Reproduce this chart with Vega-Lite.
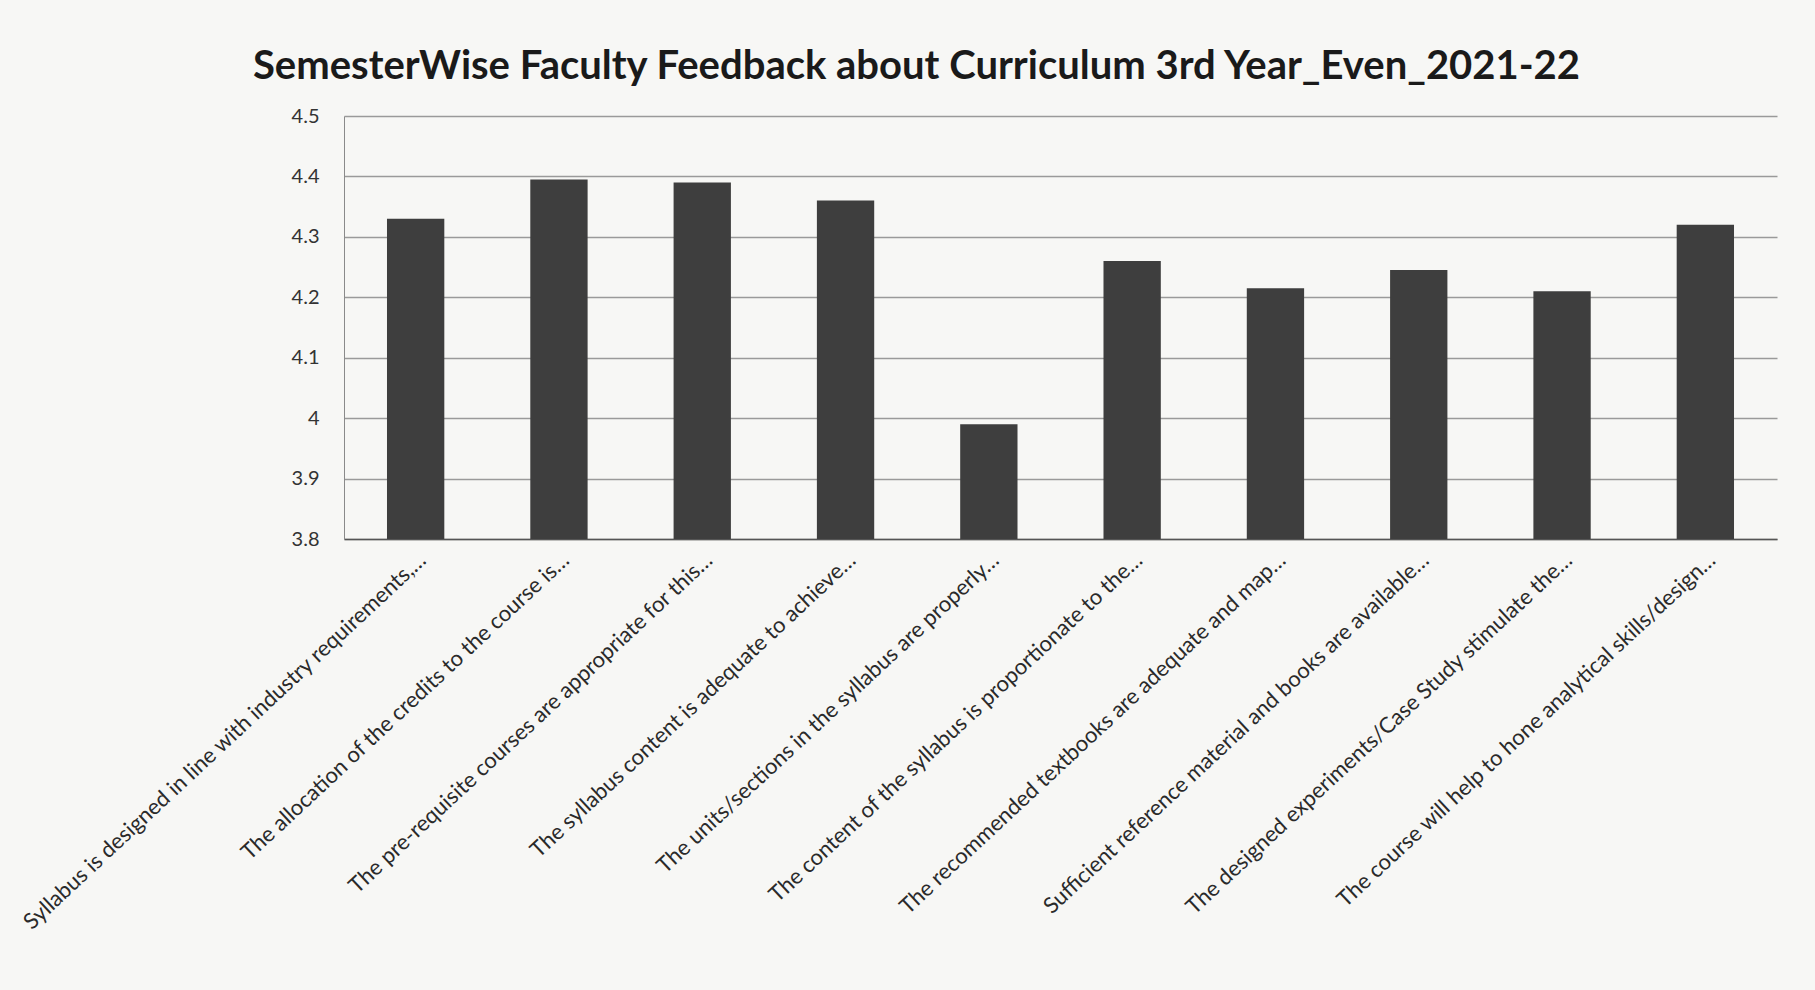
{
  "$schema": "https://vega.github.io/schema/vega-lite/v6.json",
  "width": 1433,
  "height": 423,
  "autosize": {"type": "none"},
  "padding": {"left": 344, "top": 116, "right": 38, "bottom": 451},
  "background": "#f7f7f5",
  "title": {
    "text": "SemesterWise Faculty Feedback about Curriculum 3rd Year_Even_2021-22",
    "font": "Lato",
    "fontSize": 40,
    "fontWeight": "bold",
    "color": "#1a1a1a",
    "anchor": "middle",
    "dx": -144,
    "offset": 19
  },
  "data": {
    "values": [
      {"q": "Syllabus is designed in line with industry requirements,…", "order": 1, "score": 4.33},
      {"q": "The allocation of the credits to the course is…", "order": 2, "score": 4.395},
      {"q": "The pre-requisite courses are appropriate for this…", "order": 3, "score": 4.39},
      {"q": "The syllabus content is adequate to achieve…", "order": 4, "score": 4.36},
      {"q": "The units/sections in the syllabus are properly…", "order": 5, "score": 3.99},
      {"q": "The content of the syllabus is proportionate to the…", "order": 6, "score": 4.26},
      {"q": "The recommended textbooks are adequate and map…", "order": 7, "score": 4.215},
      {"q": "Sufficient reference material and books are available…", "order": 8, "score": 4.245},
      {"q": "The designed experiments/Case Study stimulate the…", "order": 9, "score": 4.21},
      {"q": "The course will help to hone analytical skills/design…", "order": 10, "score": 4.32}
    ]
  },
  "mark": {"type": "bar", "color": "#3e3e3e", "clip": true},
  "encoding": {
    "x": {
      "field": "q",
      "type": "nominal",
      "sort": {"field": "order"},
      "title": null,
      "scale": {"paddingInner": 0.6, "paddingOuter": 0.3},
      "axis": {
        "labelAngle": -43,
        "labelFont": "Lato",
        "labelFontSize": 22,
        "labelColor": "#2a2a2a",
        "labelLimit": 800,
        "labelPadding": 10,
        "ticks": false,
        "domainColor": "#555555",
        "domainWidth": 1.5,
        "grid": false
      }
    },
    "y": {
      "field": "score",
      "type": "quantitative",
      "title": null,
      "scale": {"domain": [3.8, 4.5], "nice": false, "zero": false},
      "axis": {
        "values": [3.8, 3.9, 4.0, 4.1, 4.2, 4.3, 4.4, 4.5],
        "format": "~g",
        "labelFont": "Lato",
        "labelFontSize": 20,
        "labelColor": "#333333",
        "labelPadding": 25,
        "ticks": false,
        "domainColor": "#8a8a8a",
        "gridColor": "#9a9a9a",
        "gridWidth": 1.3
      }
    }
  },
  "config": {
    "view": {"stroke": null}
  }
}
